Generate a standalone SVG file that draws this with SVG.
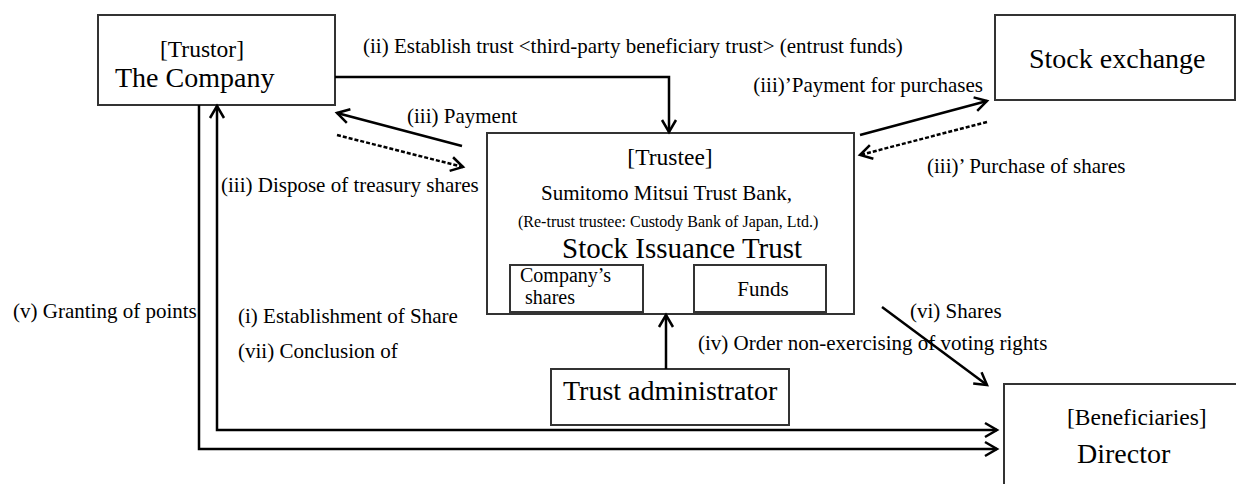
<svg xmlns="http://www.w3.org/2000/svg" width="1236" height="484" viewBox="0 0 1236 484">
<style>
text{font-family:"Liberation Serif","Times New Roman",serif;fill:#000}
.lbl{font-size:21px}
.big{font-size:28px}
.hdr{font-size:23.5px}
.sm{font-size:20px}
.box{fill:#fff;stroke:#333;stroke-width:2}
.c{fill:none;stroke:#000;stroke-width:2.5}
.d{stroke-dasharray:4 2}
</style>
<defs>
<marker id="ah" markerUnits="userSpaceOnUse" markerWidth="16" markerHeight="18" refX="13" refY="8" orient="auto-start-reverse" viewBox="0 0 16 16">
<path d="M1,1 L13,8 L1,15" fill="none" stroke="#000" stroke-width="2.5"/>
</marker>
</defs>
<g id="company">
<rect class="box" x="98" y="15" width="237" height="90"/>
<text class="hdr" x="202" y="57" text-anchor="middle">[Trustor]</text>
<text class="big" x="115" y="87">The Company</text>
</g>
<g id="stock-exchange">
<rect class="box" x="995" y="15" width="240" height="85"/>
<text class="big" x="1029" y="68">Stock exchange</text>
</g>
<g id="trustee">
<rect class="box" x="487" y="133" width="367" height="181"/>
<text class="hdr" x="670" y="165" text-anchor="middle">[Trustee]</text>
<text class="lbl" x="541" y="200">Sumitomo Mitsui Trust Bank,</text>
<text x="518" y="227" font-size="16">(Re-trust trustee: Custody Bank of Japan, Ltd.)</text>
<text x="562" y="258" font-size="29">Stock Issuance Trust</text>
<g id="company-shares">
<rect class="box" x="510" y="265" width="133" height="47"/>
<text class="sm" x="520" y="282">Company’s</text>
<text class="sm" x="525" y="304">shares</text>
</g>
<g id="funds">
<rect class="box" x="694" y="265" width="132" height="47"/>
<text class="lbl" x="763" y="296" text-anchor="middle">Funds</text>
</g>
</g>
<g id="trust-administrator">
<rect class="box" x="551" y="369" width="238" height="56"/>
<text class="big" x="563" y="400">Trust administrator</text>
</g>
<g id="director">
<rect class="box" x="1004" y="384" width="240" height="110"/>
<text class="hdr" x="1067" y="425">[Beneficiaries]</text>
<text class="big" x="1077" y="463">Director</text>
</g>
<g id="connectors">
<polyline class="c" points="335,77 669,77 669,132" marker-end="url(#ah)"/>
<line class="c" x1="462" y1="146" x2="337" y2="113" marker-end="url(#ah)"/>
<line class="c d" x1="337" y1="135" x2="463" y2="167" marker-end="url(#ah)"/>
<line class="c" x1="860" y1="135" x2="987" y2="101" marker-end="url(#ah)"/>
<line class="c d" x1="987" y1="122" x2="860" y2="155" marker-end="url(#ah)"/>
<line class="c" x1="666" y1="369" x2="666" y2="315" marker-end="url(#ah)"/>
<line class="c" x1="882" y1="307" x2="987" y2="385" marker-end="url(#ah)"/>
<polyline class="c" points="199,105 199,449 997,449" marker-end="url(#ah)"/>
<polyline class="c" points="217,106 217,430 997,430" marker-start="url(#ah)" marker-end="url(#ah)"/>
</g>
<g id="labels">
<text class="lbl" x="363" y="53">(ii) Establish trust &lt;third-party beneficiary trust&gt; (entrust funds)</text>
<text class="lbl" x="983" y="92" text-anchor="end">(iii)’Payment for purchases</text>
<text class="lbl" x="407" y="123">(iii) Payment</text>
<text class="lbl" x="221" y="192">(iii) Dispose of treasury shares</text>
<text class="lbl" x="927" y="173">(iii)’ Purchase of shares</text>
<text class="lbl" x="698" y="350">(iv) Order non-exercising of voting rights</text>
<text class="lbl" x="910" y="318">(vi) Shares</text>
<text class="lbl" x="13" y="318">(v) Granting of points</text>
<text class="lbl" x="238" y="323">(i) Establishment of Share</text>
<text class="lbl" x="238" y="358">(vii) Conclusion of</text>
</g>
</svg>
